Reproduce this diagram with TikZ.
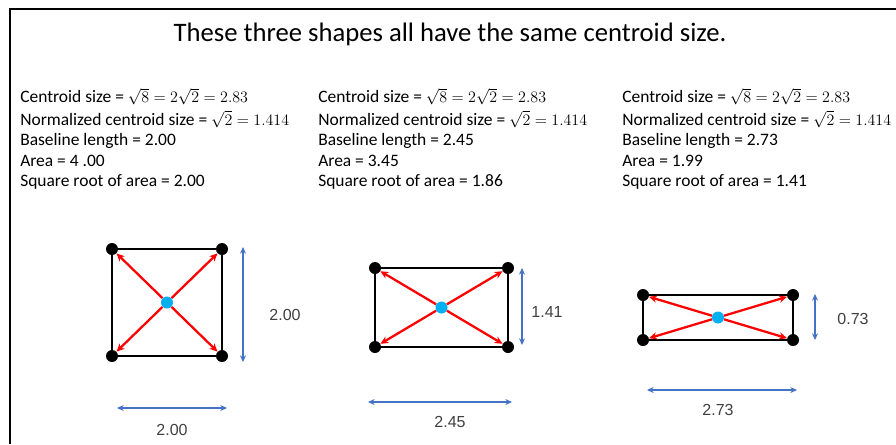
\documentclass[tikz,border=0pt]{standalone}
\usepackage{amsmath}
\usepackage{fontspec}
\setmainfont{Carlito}
\newfontfamily\dimfont{Liberation Sans}
\usepackage{tikz}
\usetikzlibrary{arrows.meta}
\definecolor{arrowred}{HTML}{FF0000}
\definecolor{dimblue}{HTML}{4472C4}
\definecolor{centroidblue}{HTML}{00B0F0}
\definecolor{labelgray}{HTML}{404040}
\newcommand{\csmath}[1]{{\fontsize{13.2}{15.6}\selectfont$#1$}}

\tikzset{
  landmark/.style={circle, fill=black, inner sep=0pt, minimum size=9pt},
  centroid/.style={circle, fill=centroidblue, inner sep=0pt, minimum size=9pt},
  outline/.style={line width=2.2pt, black},
  cvec/.style={arrowred, line width=1.7pt, -{Stealth[length=6pt,width=5.5pt]}},
  dimarrow/.style={dimblue, line width=1.3pt, {Stealth[length=5pt,width=4.5pt]}-{Stealth[length=5pt,width=4.5pt]}},
  dimlabel/.style={font=\dimfont\fontsize{12}{14}\selectfont, text=labelgray},
  infotext/.style={anchor=north west, inner sep=0pt, align=left,
    font=\fontsize{13.1}{15.4}\selectfont}
}

\begin{document}
\begin{tikzpicture}[x=0.75pt, y=-0.75pt]
  \useasboundingbox (0,0) rectangle (896,444);
  \draw[line width=1.5pt] (9.5,444) -- (9.5,9) -- (896,9);

  \node[anchor=base, font=\fontsize{20}{24}\selectfont] (title) at (450,41)
    {These three shapes all have the same centroid size.};

  % measurements of each shape
  \node[infotext] (info-a) at (20,88) {
    Centroid size = \csmath{\sqrt{8} = 2\sqrt{2} = 2.83}\\[1.5pt]
    Normalized centroid size = \csmath{\sqrt{2} = 1.414}\\
    Baseline length = 2.00\\
    Area = 4 .00\\
    Square root of area = 2.00};
  \node[infotext] (info-b) at (318,88) {
    Centroid size = \csmath{\sqrt{8} = 2\sqrt{2} = 2.83}\\[1.5pt]
    Normalized centroid size = \csmath{\sqrt{2} = 1.414}\\
    Baseline length = 2.45\\
    Area = 3.45\\
    Square root of area = 1.86};
  \node[infotext] (info-c) at (622,88) {
    Centroid size = \csmath{\sqrt{8} = 2\sqrt{2} = 2.83}\\[1.5pt]
    Normalized centroid size = \csmath{\sqrt{2} = 1.414}\\
    Baseline length = 2.73\\
    Area = 1.99\\
    Square root of area = 1.41};

  % the three rectangles with landmarks and centroid
  \foreach \s/\xl/\xr/\yt/\yb in {a/112/222/249/356, b/375/508/268/347, c/643/793/295/340} {
    \draw[outline] (\xl,\yt) rectangle (\xr,\yb);
    \node[landmark] (\s-tl) at (\xl,\yt) {};
    \node[landmark] (\s-tr) at (\xr,\yt) {};
    \node[landmark] (\s-bl) at (\xl,\yb) {};
    \node[landmark] (\s-br) at (\xr,\yb) {};
    \node[centroid] (\s-c) at ({(\xl+\xr)/2},{(\yt+\yb)/2}) {};
    \foreach \k in {tl,tr,bl,br}
      \draw[cvec] (\s-c) -- (\s-\k);
  }

  % dimensions
  \coordinate (a-vt) at (243,247);
  \coordinate (a-vb) at (243,362);
  \coordinate (a-hl) at (117,408);
  \coordinate (a-hr) at (227,408);
  \draw[dimarrow] (a-vt) -- (a-vb);
  \draw[dimarrow] (a-hl) -- (a-hr);
  \node[dimlabel] (a-height) at (285,315) {2.00};
  \node[dimlabel] (a-width) at (172,430) {2.00};

  \coordinate (b-vt) at (522,268);
  \coordinate (b-vb) at (522,345);
  \coordinate (b-hl) at (368,402);
  \coordinate (b-hr) at (512,402);
  \draw[dimarrow] (b-vt) -- (b-vb);
  \draw[dimarrow] (b-hl) -- (b-hr);
  \node[dimlabel] (b-height) at (547,312) {1.41};
  \node[dimlabel] (b-width) at (450,422) {2.45};

  \coordinate (c-vt) at (815,294);
  \coordinate (c-vb) at (815,340);
  \coordinate (c-hl) at (647,390);
  \coordinate (c-hr) at (797,390);
  \draw[dimarrow] (c-vt) -- (c-vb);
  \draw[dimarrow] (c-hl) -- (c-hr);
  \node[dimlabel] (c-height) at (853,319) {0.73};
  \node[dimlabel] (c-width) at (718,410) {2.73};
\end{tikzpicture}
\end{document}
